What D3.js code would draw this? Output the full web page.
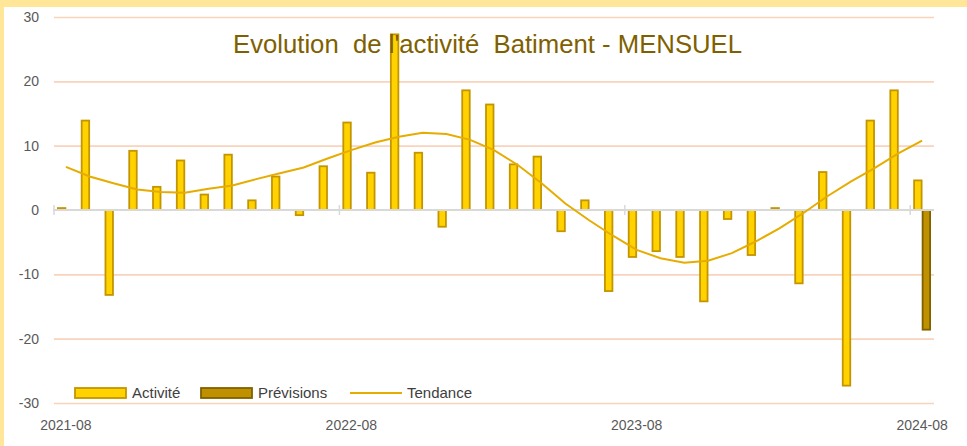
<!DOCTYPE html>
<html>
<head>
	<meta charset="utf-8">
	<title></title>
	<style>
		body { margin: 0; background: #fff; }
		text { font-family: "Liberation Sans", Arial, sans-serif; }
	</style>
</head>
<body>
	<svg id="container" width="967" height="446"></svg>
</body>
<script src="https://d3js.org/d3.v7.min.js"></script>
<script>
	// months of the chart, one bar per month
	let mois = ["2021-08","2021-09","2021-10","2021-11","2021-12","2022-01","2022-02","2022-03","2022-04",
		"2022-05","2022-06","2022-07","2022-08","2022-09","2022-10","2022-11","2022-12","2023-01","2023-02",
		"2023-03","2023-04","2023-05","2023-06","2023-07","2023-08","2023-09","2023-10","2023-11","2023-12",
		"2024-01","2024-02","2024-03","2024-04","2024-05","2024-06","2024-07","2024-08"]

	let activite = [0.3, 13.9, -13.2, 9.2, 3.6, 7.7, 2.4, 8.6, 1.5, 5.2, -0.8, 6.8, 13.6, 5.8, 27.3, 8.9,
		-2.6, 18.6, 16.4, 7.1, 8.3, -3.3, 1.5, -12.6, -7.3, -6.4, -7.3, -14.2, -1.4, -7.0, 0.3, -11.4,
		5.9, -27.3, 13.9, 18.6, 4.6]

	let previsionMois = ["2024-08"]
	let previsionValeurs = [-18.6]

	let tendance = [6.7, 5.2, 4.15, 3.2, 2.8, 2.7, 3.3, 3.8, 4.8, 5.7, 6.6, 8.0, 9.3, 10.5, 11.4, 12.0,
		11.8, 10.9, 9.3, 7.0, 4.15, 1.0, -1.6, -4.0, -6.2, -7.5, -8.2, -7.9, -6.7, -4.9, -2.85, -0.5,
		2.1, 4.4, 6.5, 8.8, 10.8]

	let yTicks = [-30, -20, -10, 0, 10, 20, 30]
	let xLabels = ["2021-08", "2022-08", "2023-08", "2024-08"]
	let series = ["Activité", "Prévisions"]

	let titre = "Evolution  de l'activité  Batiment - MENSUEL"

	let svg = d3.select("#container")

	// yellow frame on top / left (the rest is cut off in the capture)
	svg.append("rect").attr("x", 0).attr("y", 0).attr("width", 967).attr("height", 446).attr("fill", "#fff")
	svg.append("rect").attr("x", 0).attr("y", 0).attr("width", 967).attr("height", 7).attr("fill", "#FFE699")
	svg.append("rect").attr("x", 0).attr("y", 0).attr("width", 4).attr("height", 446).attr("fill", "#FFE699")

	let plotLeft = 54, plotRight = 934, plotTop = 17, plotBottom = 403

	let x = d3.scaleBand()
		.domain(mois)
		.range([plotLeft, plotRight])
		.padding(0)

	let y = d3.scaleLinear()
		.domain([-30, 30])
		.range([plotBottom, plotTop])

	// two bars per month, side by side
	let xs = d3.scaleBand()
		.domain(series)
		.range([x.bandwidth() / 2 - 8.5, x.bandwidth() / 2 + 8.5])

	// grid
	let grid = svg.append("g")
		.attr("transform", `translate(${plotLeft},0)`)
		.call(d3.axisLeft(y).tickValues(yTicks.filter(d => d != 0)).tickSize(-(plotRight - plotLeft)).tickFormat(""))
	grid.select(".domain").remove()
	grid.selectAll(".tick line").attr("stroke", "#F9D3BC").attr("stroke-width", 1.6)

	// y labels (plain hyphen, like excel)
	let yAxis = svg.append("g")
		.attr("transform", `translate(${plotLeft},0)`)
		.call(d3.axisLeft(y).tickValues(yTicks).tickSize(0).tickPadding(15).tickFormat(d => String(d)))
	yAxis.select(".domain").remove()
	yAxis.selectAll("text")
		.attr("font-size", 14)
		.attr("fill", "#595959")
		.style("font-family", "'Liberation Sans', Arial, sans-serif")

	// bars
	let barW = xs.bandwidth() - 1
	svg.append("g").selectAll("rect")
		.data(activite)
		.enter().append("rect")
		.attr("x", (d, i) => x(mois[i]) + xs("Activité") + 0.5)
		.attr("y", d => y(Math.max(0, d)))
		.attr("width", barW)
		.attr("height", d => Math.abs(y(d) - y(0)))
		.attr("fill", "#FFD200")
		.attr("stroke", "#C39500")
		.attr("stroke-width", 1.8)

	svg.append("g").selectAll("rect")
		.data(previsionValeurs)
		.enter().append("rect")
		.attr("x", (d, i) => x(previsionMois[i]) + xs("Prévisions") + 0.5)
		.attr("y", d => y(Math.max(0, d)))
		.attr("width", barW)
		.attr("height", d => Math.abs(y(d) - y(0)))
		.attr("fill", "#BF9000")
		.attr("stroke", "#806000")
		.attr("stroke-width", 1.8)

	// category axis at zero
	svg.append("line")
		.attr("x1", plotLeft - 1).attr("x2", plotRight)
		.attr("y1", y(0)).attr("y2", y(0))
		.attr("stroke", "#D9D9D9")
		.attr("stroke-width", 2.2)

	svg.append("g").selectAll("line")
		.data(xLabels)
		.enter().append("line")
		.attr("x1", d => x(d)).attr("x2", d => x(d))
		.attr("y1", y(0) - 5).attr("y2", y(0) + 5)
		.attr("stroke", "#D9D9D9")
		.attr("stroke-width", 1.5)

	// trend
	let line = d3.line()
		.x((d, i) => x(mois[i]) + x.bandwidth() / 2)
		.y(d => y(d))

	svg.append("path")
		.attr("d", line(tendance))
		.attr("fill", "none")
		.attr("stroke", "#E6AC00")
		.attr("stroke-width", 2)

	// title, drawn over the plot
	svg.append("text")
		.attr("x", 487.5)
		.attr("y", 53)
		.attr("text-anchor", "middle")
		.attr("font-size", 26.5)
		.attr("fill", "#7F6000")
		.attr("textLength", 509)
		.attr("lengthAdjust", "spacingAndGlyphs")
		.style("white-space", "pre")
		.text(titre)

	// x labels
	let xAxis = svg.append("g")
		.attr("transform", "translate(0,430)")
		.call(d3.axisBottom(x).tickValues(xLabels).tickSize(0).tickPadding(0))
	xAxis.select(".domain").remove()
	xAxis.selectAll("text")
		.attr("dy", 0)
		.attr("font-size", 14)
		.attr("fill", "#595959")
		.style("font-family", "'Liberation Sans', Arial, sans-serif")

	// legend
	let legend = svg.append("g").attr("transform", "translate(0,393)")
	let legendItems = [
		{ name: "Activité", x: 75, type: "rect", fill: "#FFD200", stroke: "#C39500" },
		{ name: "Prévisions", x: 201, type: "rect", fill: "#BF9000", stroke: "#806000" },
		{ name: "Tendance", x: 350, type: "line", stroke: "#E6AC00" }
	]
	for (let it of legendItems) {
		if (it.type == "rect") {
			legend.append("rect")
				.attr("x", it.x).attr("y", -5)
				.attr("width", 51).attr("height", 10)
				.attr("fill", it.fill).attr("stroke", it.stroke).attr("stroke-width", 1.8)
		} else {
			legend.append("line")
				.attr("x1", it.x).attr("x2", it.x + 52)
				.attr("y1", 0).attr("y2", 0)
				.attr("stroke", it.stroke).attr("stroke-width", 2)
		}
		legend.append("text")
			.attr("x", it.x + 57)
			.attr("y", 5)
			.attr("font-size", 15)
			.attr("fill", "#404040")
			.text(it.name)
	}
</script>
</html>
